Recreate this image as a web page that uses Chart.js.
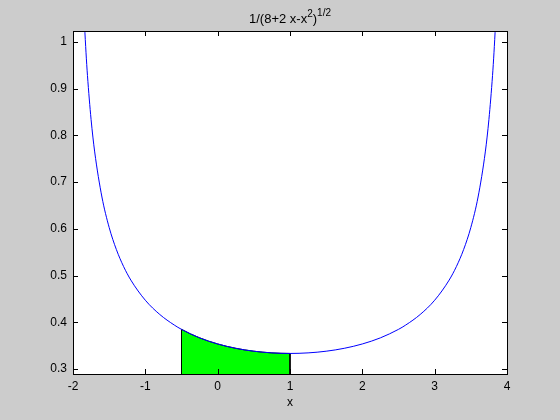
<!DOCTYPE html>
<html>
<head>
<meta charset="utf-8">
<script src="https://cdn.jsdelivr.net/npm/chart.js@4"></script>
<style>
  html, body { margin: 0; padding: 0; background: #cccccc; }
  #wrap { width: 560px; height: 420px; }
</style>
</head>
<body>
<div id="wrap"><canvas id="chart" width="560" height="420"></canvas></div>
<script>
// --- Data ---
const curveX = [-1.84, -1.82, -1.8, -1.75, -1.7, -1.6, -1.5, -1.4, -1.3, -1.2, -1.0, -0.8, -0.6, -0.5, -0.25, 0, 0.25, 0.5, 0.75, 1,
                1.25, 1.5, 1.75, 2, 2.25, 2.5, 2.6, 2.8, 3, 3.2, 3.3, 3.4, 3.5, 3.6, 3.7, 3.75, 3.8, 3.82, 3.84];
const curveY = [1.0345, 0.9770, 0.9285, 0.8341, 0.7647, 0.6682, 0.6030, 0.5556, 0.5192, 0.4903, 0.4472, 0.4167, 0.3941, 0.3849, 0.3667, 0.3536, 0.3443, 0.3381, 0.3345, 0.3333,
                0.3345, 0.3381, 0.3443, 0.3536, 0.3667, 0.3849, 0.3941, 0.4167, 0.4472, 0.4903, 0.5192, 0.5556, 0.6030, 0.6682, 0.7647, 0.8341, 0.9285, 0.9770, 1.0345];
const areaX = [-0.5, -0.5, -0.375, -0.25, -0.125, 0, 0.125, 0.25, 0.375, 0.5, 0.625, 0.75, 0.875, 1, 1];
const areaY = [0.2893, 0.3849, 0.3750, 0.3667, 0.3596, 0.3536, 0.3485, 0.3443, 0.3408, 0.3381, 0.3360, 0.3345, 0.3336, 0.3333, 0.2893];
const xTicks = [-2, -1, 0, 1, 2, 3, 4];
const yTicks = [0.3, 0.4, 0.5, 0.6, 0.7, 0.8, 0.9, 1];
const xRange = [-2, 4];
const yRange = [0.2893, 1.0236];

const FONT = 'Liberation Sans, Arial, Helvetica, sans-serif';

const toPoints = (xs, ys) => xs.map((x, i) => ({ x: x, y: ys[i] }));

// --- Box, inward ticks and title, MATLAB style ---
const matlabFrame = {
    id: 'matlabFrame',
    beforeDraw(chart) {
        const { ctx, chartArea: a } = chart;
        ctx.save();
        ctx.fillStyle = '#ffffff';
        ctx.fillRect(a.left, a.top, a.right - a.left, a.bottom - a.top);
        ctx.restore();
    },
    afterDraw(chart) {
        const { ctx, chartArea: a, scales } = chart;
        const len = 5;
        ctx.save();
        ctx.strokeStyle = '#000000';
        ctx.lineWidth = 1;
        ctx.beginPath();
        xTicks.forEach(t => {
            const px = Math.round(scales.x.getPixelForValue(t)) + 0.5;
            ctx.moveTo(px, a.bottom); ctx.lineTo(px, a.bottom - len);
            ctx.moveTo(px, a.top); ctx.lineTo(px, a.top + len);
        });
        yTicks.forEach(t => {
            const py = Math.round(scales.y.getPixelForValue(t)) + 0.5;
            ctx.moveTo(a.left, py); ctx.lineTo(a.left + len, py);
            ctx.moveTo(a.right, py); ctx.lineTo(a.right - len, py);
        });
        ctx.stroke();
        ctx.strokeRect(Math.round(a.left) + 0.5, Math.round(a.top) + 0.5,
                       Math.round(a.right - a.left), Math.round(a.bottom - a.top));

        // title: 1/(8+2 x-x^2)^(1/2)
        const parts = [
            { t: '1/(8+2 x-x', size: 13, dy: 0 },
            { t: '2', size: 10, dy: -6 },
            { t: ')', size: 13, dy: 0 },
            { t: '1/2', size: 10, dy: -7 }
        ];
        let total = 0;
        parts.forEach(p => { ctx.font = p.size + 'px ' + FONT; p.w = ctx.measureText(p.t).width; total += p.w; });
        let x = (a.left + a.right) / 2 - total / 2;
        const base = 23;
        ctx.fillStyle = '#000000';
        ctx.textBaseline = 'alphabetic';
        ctx.textAlign = 'left';
        parts.forEach(p => {
            ctx.font = p.size + 'px ' + FONT;
            ctx.fillText(p.t, x, base + p.dy);
            x += p.w;
        });
        ctx.restore();
    }
};

const chart = new Chart(document.getElementById('chart'), {
    type: 'line',
    data: {
        datasets: [
            {
                data: toPoints(curveX, curveY),
                borderColor: '#0000ff',
                borderWidth: 1,
                pointRadius: 0,
                cubicInterpolationMode: 'monotone',
                fill: false,
                clip: 0
            },
            {
                data: toPoints(areaX, areaY),
                borderColor: '#000000',
                borderWidth: 1,
                backgroundColor: '#00ff00',
                pointRadius: 0,
                tension: 0,
                fill: 'start',
                clip: 0
            }
        ]
    },
    options: {
        responsive: false,
        animation: false,
        events: [],
        layout: { padding: { top: 31, right: 53, left: 0, bottom: 0 } },
        plugins: { legend: { display: false }, tooltip: { enabled: false } },
        scales: {
            x: {
                type: 'linear',
                min: xRange[0],
                max: xRange[1],
                afterBuildTicks: s => { s.ticks = xTicks.map(v => ({ value: v })); },
                afterFit: s => { s.height = 46; },
                grid: { display: false, drawTicks: false },
                border: { display: false },
                ticks: { color: '#000000', font: { family: FONT, size: 12 }, padding: 5, maxRotation: 0 },
                title: { display: true, text: 'x', color: '#000000', font: { family: FONT, size: 12 }, padding: { top: 0, bottom: 10 } }
            },
            y: {
                type: 'linear',
                min: yRange[0],
                max: yRange[1],
                afterBuildTicks: s => { s.ticks = yTicks.map(v => ({ value: v })); },
                afterFit: s => { s.width = 73; },
                grid: { display: false, drawTicks: false },
                border: { display: false },
                ticks: { color: '#000000', font: { family: FONT, size: 12 }, padding: 6, callback: v => String(Math.round(v * 10) / 10) }
            }
        }
    },
    plugins: [matlabFrame]
});
</script>
</body>
</html>
